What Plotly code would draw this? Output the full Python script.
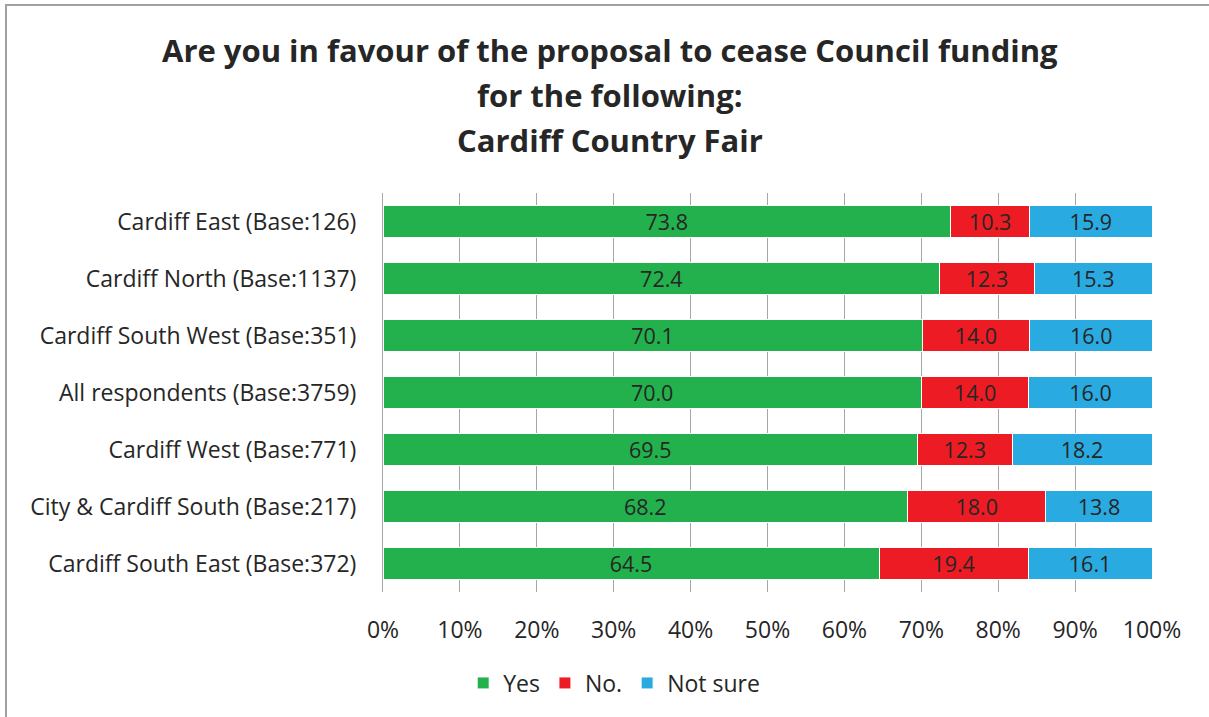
import plotly.graph_objects as go

categories = [
    "Cardiff East (Base:126)",
    "Cardiff North (Base:1137)",
    "Cardiff South West (Base:351)",
    "All respondents (Base:3759)",
    "Cardiff West (Base:771)",
    "City & Cardiff South (Base:217)",
    "Cardiff South East (Base:372)",
]
yes_vals = [73.8, 72.4, 70.1, 70.0, 69.5, 68.2, 64.5]
no_vals = [10.3, 12.3, 14.0, 14.0, 12.3, 18.0, 19.4]
notsure_vals = [15.9, 15.3, 16.0, 16.0, 18.2, 13.8, 16.1]
series_names = ["Yes", "No.", "Not sure"]
colors = ["#22B14C", "#ED1C24", "#29ABE2"]
title_lines = [
    "Are you in favour of the proposal to cease Council funding",
    "for the following:",
    "Cardiff Country Fair",
]

FONT = "Open Sans"
TXT = "#262626"

fig = go.Figure()
for name, vals, col in zip(series_names, [yes_vals, no_vals, notsure_vals], colors):
    fig.add_trace(go.Bar(
        y=categories, x=vals, name=name, orientation="h",
        marker=dict(color=col, line=dict(color="white", width=1)),
        texttemplate="%{x:.1f}", textposition="inside", insidetextanchor="middle",
        textangle=0, constraintext="none",
        textfont=dict(family=FONT, size=21.5, color=TXT),
        hoverinfo="skip",
    ))

L, R, T, B = 383, 57, 193, 125
W, H = 1209, 717
pw, ph = W - L - R, H - T - B

fig.update_layout(
    width=W, height=H,
    barmode="stack", bargap=0.45,
    margin=dict(l=L, r=R, t=T, b=B),
    paper_bgcolor="white", plot_bgcolor="white",
    font=dict(family=FONT, color=TXT),
    xaxis=dict(
        range=[0, 100], dtick=10, ticksuffix="%",
        showgrid=True, gridcolor="#A6A6A6", gridwidth=1,
        zeroline=False, showline=False,
        tickfont=dict(family=FONT, size=23, color=TXT),
        ticks="", ticklabelstandoff=22,
    ),
    yaxis=dict(
        autorange="reversed", showgrid=False, showline=True,
        linecolor="#A6A6A6", linewidth=1,
        tickfont=dict(family=FONT, size=23, color=TXT),
        ticks="", ticklabelstandoff=21,
    ),
    legend=dict(
        orientation="h", xref="container", x=0.508, xanchor="center",
        yref="container", y=1 - 683 / H, yanchor="middle",
        font=dict(family=FONT, size=23, color=TXT),
        traceorder="normal", itemwidth=30,
    ),
    showlegend=True,
)

for i, (line, py) in enumerate(zip(title_lines, [50, 95, 140])):
    fig.add_annotation(
        text="<b>%s</b>" % line, xref="paper", yref="paper",
        x=(610 - L) / pw, y=(T + ph - py) / ph, xanchor="center", yanchor="middle",
        showarrow=False, font=dict(family=FONT, size=31, color=TXT),
    )

fig.add_shape(type="rect", xref="paper", yref="paper",
              x0=(6 - L) / pw, x1=(1220 - L) / pw,
              y0=(T + ph - 730) / ph, y1=(T + ph - 5) / ph,
              line=dict(color="#A0A0A0", width=2), fillcolor="rgba(0,0,0,0)", layer="below")

fig.write_html("out.html", config={"displayModeBar": False},
               post_script="document.body.style.margin='0';document.body.style.padding='0';")
